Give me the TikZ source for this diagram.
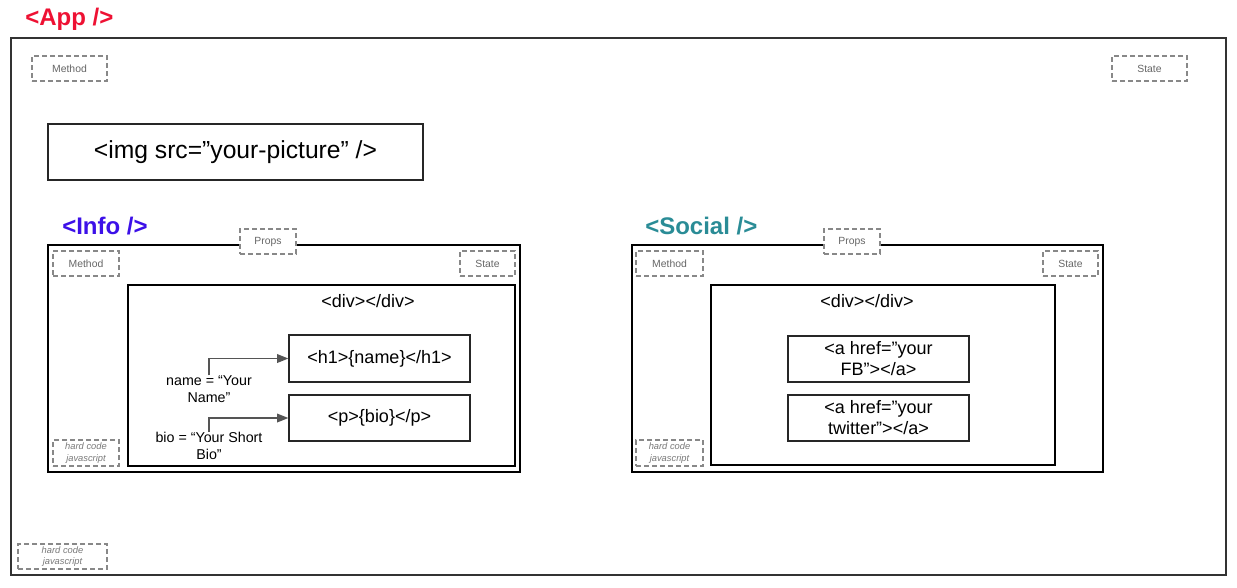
\documentclass[tikz,border=0pt]{standalone}
\usepackage{fontspec}
\setmainfont{Liberation Sans}
\usetikzlibrary{arrows.meta}
\definecolor{appred}{HTML}{EE1133}
\definecolor{infoblue}{HTML}{3C10E8}
\definecolor{socteal}{HTML}{2A8C96}
\definecolor{dashgray}{HTML}{888888}
\definecolor{txtgray}{HTML}{555555}
\definecolor{hcgray}{HTML}{7A7A7A}
\definecolor{darkline}{HTML}{333333}
\tikzset{
  pxbox/.style n args={4}{at={({(#1+#3)/2},{(#2+#4)/2})}, minimum width={(#3-#1)*0.75pt}, minimum height={(#4-#2)*0.75pt}},
  appbox/.style={draw=darkline, line width=1.5pt, inner sep=0pt},
  compbox/.style={draw=black, line width=1.1pt, inner sep=0pt},
  elbox/.style={draw=black!85, line width=0.9pt, inner sep=0pt, align=center, font=\fontsize{13.5}{15.75}\selectfont},
  dbox/.style={draw=dashgray, fill=white, line width=1.2pt, dash pattern=on 3.6pt off 2.4pt, inner sep=0pt, text=txtgray!90, font=\fontsize{7.8}{9}\selectfont, align=center},
  hcbox/.style={dbox, text=hcgray, font=\fontsize{7}{8.6}\itshape\selectfont},
  ttl/.style={anchor=west, font=\fontsize{18}{20}\bfseries\selectfont, inner sep=0pt},
  lbl/.style={align=center, font=\fontsize{10.7}{12.75}\selectfont, inner sep=0pt},
  eltxt/.style={font=\fontsize{13.5}{15.75}\selectfont, inner sep=0pt},
  arr/.style={draw=txtgray, line width=1pt, -{Triangle[length=8.5pt,width=6.5pt]}}
}
\begin{document}
\begin{tikzpicture}[x=0.75pt,y=-0.75pt]
\useasboundingbox (0,0) rectangle (1237,587);
% App
\node[ttl, text=appred] (apptitle) at (25,19) {<App />};
\node[appbox, pxbox={11}{38}{1226}{575}] (app) {};
\node[dbox, pxbox={32}{56}{107}{81}] (appmethod) {Method};
\node[dbox, pxbox={1112}{56}{1187}{81}] (appstate) {State};
\node[elbox, font=\fontsize{18.5}{20}\selectfont, pxbox={48}{124}{423}{180}] (img) {<img src=”your-picture” />};
\node[hcbox, pxbox={18}{544}{107}{569}] (apphc) {hard code\\javascript};
% Info
\node[ttl, text=infoblue] (infotitle) at (62,226) {<Info />};
\node[compbox, pxbox={48}{245}{520}{472}] (info) {};
\node[dbox, pxbox={240}{229}{296}{254}] (infoprops) {Props};
\node[dbox, pxbox={53}{251}{119}{276}] (infomethod) {Method};
\node[dbox, pxbox={460}{251}{515}{276}] (infostate) {State};
\node[hcbox, pxbox={53}{440}{119}{466}] (infohc) {hard code\\javascript};
\node[compbox, pxbox={128}{285}{515}{466}] (infodiv) {};
\node[eltxt] (infodivtxt) at (368,301) {<div></div>};
\node[elbox, pxbox={289}{335}{470}{382}] (h1) {<h1>\{name\}</h1>};
\node[elbox, pxbox={289}{395}{470}{441}] (p) {<p>\{bio\}</p>};
\node[lbl] (namelbl) at (209,389) {name = “Your\\Name”};
\node[lbl] (biolbl) at (209,446) {bio = “Your Short\\Bio”};
\draw[arr] (namelbl.north) |- (h1.west);
\draw[arr] (biolbl.north) |- (p.west);
% Social
\node[ttl, text=socteal] (soctitle) at (645,226) {<Social />};
\node[compbox, pxbox={632}{245}{1103}{472}] (social) {};
\node[dbox, pxbox={824}{229}{880}{254}] (socprops) {Props};
\node[dbox, pxbox={636}{251}{703}{276}] (socmethod) {Method};
\node[dbox, pxbox={1043}{251}{1098}{276}] (socstate) {State};
\node[hcbox, pxbox={636}{440}{703}{466}] (sochc) {hard code\\javascript};
\node[compbox, pxbox={711}{285}{1055}{465}] (socdiv) {};
\node[eltxt] (socdivtxt) at (867,301) {<div></div>};
\node[elbox, pxbox={788}{336}{969}{382}] (fb) {<a href=”your\\FB”></a>};
\node[elbox, pxbox={788}{395}{969}{441}] (tw) {<a href=”your\\twitter”></a>};
\end{tikzpicture}
\end{document}
